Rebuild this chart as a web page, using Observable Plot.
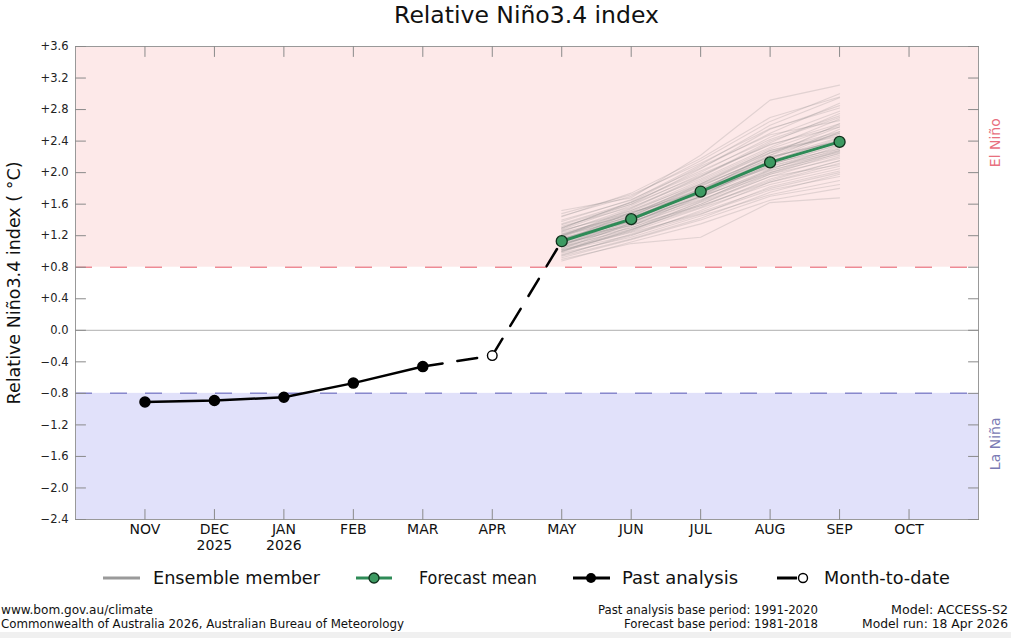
<!DOCTYPE html>
<html><head><meta charset="utf-8">
<script src="https://cdn.jsdelivr.net/npm/d3@7"></script>
<script src="https://cdn.jsdelivr.net/npm/@observablehq/plot@0.6"></script>
<style>
html,body{margin:0;padding:0;background:#fff;}
body{width:1011px;height:638px;overflow:hidden;font-family:"DejaVu Sans",sans-serif;color:#111;}
#title{box-sizing:border-box;width:1011px;height:30px;line-height:30px;font-size:23.5px;text-align:center;padding-left:75px;padding-right:33px;}
#chart svg{display:block;}
svg{display:block;}
</style></head><body>
<div id="title">Relative Niño3.4 index</div>
<div id="chart"></div>
<svg id="legend" width="1011" height="36"></svg>
<svg id="footer" width="1011" height="42"></svg>
<script>
// ---- data ----
const monthLabels = ["NOV","DEC","JAN","FEB","MAR","APR","MAY","JUN","JUL","AUG","SEP","OCT"];
const yearLabels  = ["","2025","2026","","","","","","","","",""];
const yTicks = [-2.4,-2.0,-1.6,-1.2,-0.8,-0.4,0.0,0.4,0.8,1.2,1.6,2.0,2.4,2.8,3.2,3.6];
const yTickLabels = ["\u22122.4","\u22122.0","\u22121.6","\u22121.2","\u22120.8","\u22120.4","0.0","+0.4","+0.8","+1.2","+1.6","+2.0","+2.4","+2.8","+3.2","+3.6"];
const elNinoThreshold = 0.8;
const laNinaThreshold = -0.8;
const pastMonths = ["NOV","DEC","JAN","FEB","MAR"];
const pastValues = [-0.91,-0.89,-0.85,-0.67,-0.46];
const mtdMonths = ["APR"];
const mtdValues = [-0.32];
const forecastMonths = ["MAY","JUN","JUL","AUG","SEP"];
const forecastMean = [1.13,1.41,1.76,2.13,2.39];
// ensemble members: values for MAY, JUN, JUL, AUG, SEP
const ensembleMembers = [
 [1.13,1.40,1.75,2.12,2.38],[1.05,1.30,1.62,1.95,2.20],[1.20,1.52,1.90,2.30,2.60],[0.95,1.22,1.50,1.80,2.00],
 [1.30,1.60,2.05,2.55,2.85],[1.10,1.35,1.68,2.05,2.30],[1.18,1.45,1.82,2.22,2.50],[0.90,1.10,1.18,1.62,1.68],
 [1.52,1.68,2.22,2.92,3.11],[1.00,1.28,1.58,1.90,2.15],[1.25,1.55,1.95,2.40,2.70],[1.08,1.42,1.80,2.18,2.45],
 [1.15,1.38,1.70,2.00,2.22],[0.98,1.18,1.45,1.72,1.90],[1.35,1.62,2.00,2.45,2.78],[1.12,1.50,1.88,2.28,2.52],
 [1.02,1.25,1.55,1.85,2.05],[1.22,1.48,1.85,2.25,2.48],[1.40,1.65,2.10,2.60,2.95],[0.92,1.15,1.40,1.70,1.85],
 [1.16,1.42,1.78,2.15,2.42],[1.06,1.34,1.65,2.02,2.28],[1.28,1.58,1.98,2.35,2.62],[1.10,1.30,1.60,1.95,2.10],
 [1.19,1.50,1.72,2.10,2.35],[1.00,1.32,1.70,2.08,2.32],[1.45,1.70,2.15,2.65,3.00],[1.14,1.44,1.84,2.20,2.40],
 [0.96,1.20,1.52,1.88,2.12],[1.24,1.46,1.80,2.18,2.55],[1.08,1.36,1.72,2.10,2.36],[1.32,1.56,1.92,2.32,2.68],
 [1.04,1.26,1.60,1.98,2.25],[1.12,1.40,1.76,2.25,2.58],[0.88,1.12,1.35,1.65,1.80],[1.20,1.54,1.94,2.38,2.75],
 [1.17,1.38,1.66,1.98,2.18],[1.26,1.52,1.86,2.28,2.46],[1.09,1.33,1.64,2.04,2.34],[1.38,1.66,2.06,2.50,2.88],
 [1.02,1.24,1.48,1.78,1.95],[1.15,1.46,1.86,2.26,2.50],[1.22,1.44,1.74,2.08,2.28],[0.94,1.16,1.42,1.75,1.98],
 [1.30,1.62,2.02,2.42,2.72],[1.11,1.37,1.70,2.14,2.44],[1.48,1.72,2.12,2.56,2.82],[1.06,1.28,1.56,1.92,2.15],
 [1.19,1.48,1.83,2.20,2.40],[1.13,1.43,1.79,2.16,2.52],[1.03,1.36,1.74,2.12,2.30],[1.27,1.49,1.77,2.06,2.26],
 [0.99,1.27,1.63,2.00,2.27],[1.34,1.60,1.96,2.36,2.58],[1.07,1.39,1.77,2.22,2.62],[1.21,1.41,1.69,2.03,2.24],
 [1.44,1.74,2.18,2.70,2.96],[1.16,1.33,1.58,1.88,2.08],[1.01,1.21,1.47,1.82,2.02],[1.29,1.63,2.08,2.48,2.66]
];

// ---- derived tables ----
const mi = m => monthLabels.indexOf(m);
const monthIdx = monthLabels.map((m,i)=>i);
const past = pastMonths.map((m,i)=>({x:mi(m), y:pastValues[i]}));
const mtd = mtdMonths.map((m,i)=>({x:mi(m), y:mtdValues[i]}));
const fc = forecastMonths.map((m,i)=>({x:mi(m), y:forecastMean[i]}));
const connector = [past[past.length-1], ...mtd, fc[0]];
const ens = ensembleMembers.flatMap((vals,k)=>vals.map((v,j)=>({member:k, x:mi(forecastMonths[j]), y:v})));
const xDomain = [-1, monthLabels.length];
const yDomain = [yTicks[0], yTicks[yTicks.length-1]];

const tickShape = {draw(ctx, l){ ctx.moveTo(0,0); ctx.lineTo(0,-l); }};
const tickCol = "#8a8a8a";

const chart = Plot.plot({
  width: 1011, height: 530,
  marginLeft: 75, marginRight: 33, marginTop: 16, marginBottom: 41,
  x: {domain: xDomain, axis: null},
  y: {domain: yDomain, axis: null},
  style: {fontFamily: "DejaVu Sans", fontSize: "11.5px", background: "transparent", overflow: "visible", color: "#222"},
  marks: [
    Plot.rect([0], {x1: xDomain[0], x2: xDomain[1], y1: elNinoThreshold, y2: yDomain[1], fill: "#fde9e9"}),
    Plot.rect([0], {x1: xDomain[0], x2: xDomain[1], y1: yDomain[0], y2: laNinaThreshold, fill: "#e1e1fa"}),
    Plot.ruleY([0], {stroke: "#b0b0b0", strokeWidth: 1}),
    Plot.ruleY([elNinoThreshold], {stroke: "#ee8a94", strokeWidth: 1.5, strokeDasharray: "17,18"}),
    Plot.ruleY([laNinaThreshold], {stroke: "#8888cc", strokeWidth: 1.5, strokeDasharray: "17,18"}),
    Plot.line(ens, {x: "x", y: "y", z: "member", stroke: "#808080", strokeOpacity: 0.22, strokeWidth: 1.1}),
    Plot.line(past, {x: "x", y: "y", stroke: "#000", strokeWidth: 2.5}),
    Plot.line(connector, {x: "x", y: "y", stroke: "#000", strokeWidth: 2.5, strokeDasharray: "20,15"}),
    Plot.line(fc, {x: "x", y: "y", stroke: "#2e8b57", strokeWidth: 3}),
    Plot.dot(past, {x: "x", y: "y", r: 5, fill: "#000", stroke: "#000"}),
    Plot.dot(mtd, {x: "x", y: "y", r: 4.8, fill: "#fff", stroke: "#000", strokeWidth: 1.4}),
    Plot.dot(fc, {x: "x", y: "y", r: 5.5, fill: "#3d9a62", stroke: "#10301c", strokeWidth: 1.3}),
    Plot.frame({stroke: "#999", strokeWidth: 1}),
    // inward ticks on all sides
    Plot.vector(yTicks, {y: d=>d, frameAnchor: "left", rotate: 90, length: 10, anchor: "start", shape: tickShape, stroke: tickCol, strokeWidth: 1}),
    Plot.vector(yTicks, {y: d=>d, frameAnchor: "right", rotate: -90, length: 10, anchor: "start", shape: tickShape, stroke: tickCol, strokeWidth: 1}),
    Plot.vector(monthIdx, {x: d=>d, frameAnchor: "bottom", rotate: 0, length: 10, anchor: "start", shape: tickShape, stroke: tickCol, strokeWidth: 1}),
    Plot.vector(monthIdx, {x: d=>d, frameAnchor: "top", rotate: 180, length: 10, anchor: "start", shape: tickShape, stroke: tickCol, strokeWidth: 1}),
    // tick labels
    Plot.text(yTicks, {y: d=>d, text: (d,i)=>yTickLabels[i], frameAnchor: "left", dx: -7, textAnchor: "end", fontSize: 11.5, fill: "#222"}),
    Plot.text(monthIdx, {x: d=>d, text: (d,i)=>monthLabels[i], frameAnchor: "bottom", dy: 14, fontSize: 14, fill: "#111"}),
    Plot.text(monthIdx, {x: d=>d, text: (d,i)=>yearLabels[i], frameAnchor: "bottom", dy: 30, fontSize: 14, fill: "#111"}),
    // axis title and regime labels
    Plot.text(["Relative Niño3.4 index ( °C)"], {frameAnchor: "left", dx: -61, textAnchor: "middle", rotate: -90, fontSize: 17.5, fill: "#111"}),
    Plot.text(["El Niño"], {y: [2.38], frameAnchor: "right", dx: 17, textAnchor: "middle", rotate: -90, fontSize: 14, fill: "#e8707e"}),
    Plot.text(["La Niña"], {y: [-1.44], frameAnchor: "right", dx: 17, textAnchor: "middle", rotate: -90, fontSize: 14, fill: "#7a7ab4"})
  ]
});
document.getElementById("chart").appendChild(chart);

// ---- legend ----
const NS = "http://www.w3.org/2000/svg";
function el(parent, tag, attrs, text){
  const e = document.createElementNS(NS, tag);
  for (const k in attrs) e.setAttribute(k, attrs[k]);
  if (text !== undefined) e.textContent = text;
  parent.appendChild(e); return e;
}
const lg = document.getElementById("legend");
const ly = 18;
el(lg,"line",{x1:103,x2:140,y1:ly,y2:ly,stroke:"#9a9a9a","stroke-width":3});
el(lg,"line",{x1:356,x2:392,y1:ly,y2:ly,stroke:"#2e8b57","stroke-width":3});
el(lg,"circle",{cx:374,cy:ly,r:5,fill:"#3d9a62",stroke:"#10301c","stroke-width":1.3});
el(lg,"line",{x1:573,x2:610,y1:ly,y2:ly,stroke:"#000","stroke-width":3});
el(lg,"circle",{cx:591,cy:ly,r:5,fill:"#000"});
el(lg,"line",{x1:777,x2:797,y1:ly,y2:ly,stroke:"#000","stroke-width":3});
el(lg,"circle",{cx:803,cy:ly,r:4.5,fill:"#fff",stroke:"#000","stroke-width":1.4});
const legendText = [["Ensemble member",153,167],["Forecast mean",419,118],["Past analysis",622,116],["Month-to-date",824,126]];
legendText.forEach(([t,x,w])=>el(lg,"text",{x:x,y:ly,"dominant-baseline":"central","font-size":"17.5px","font-family":"DejaVu Sans",textLength:w,lengthAdjust:"spacingAndGlyphs",fill:"#111"},t));

// ---- footer ----
const ft = document.getElementById("footer");
el(ft,"rect",{x:0,y:36,width:1011,height:6,fill:"#f0f0f0"});
const footerLines = [
  ["www.bom.gov.au/climate", 1, 152, 14],
  ["Commonwealth of Australia 2026, Australian Bureau of Meteorology", 1, 403, 28],
  ["Past analysis base period: 1991-2020", 598, 220, 14],
  ["Forecast base period: 1981-2018", 624, 194, 28],
  ["Model: ACCESS-S2", 891, 117, 14],
  ["Model run: 18 Apr 2026", 862, 146, 28]
];
footerLines.forEach(([t,x,w,y])=>el(ft,"text",{x:x,y:y,"dominant-baseline":"central","font-size":"12px","font-family":"DejaVu Sans Condensed, DejaVu Sans",textLength:w,lengthAdjust:"spacingAndGlyphs",fill:"#111"},t));
</script>
</body></html>
